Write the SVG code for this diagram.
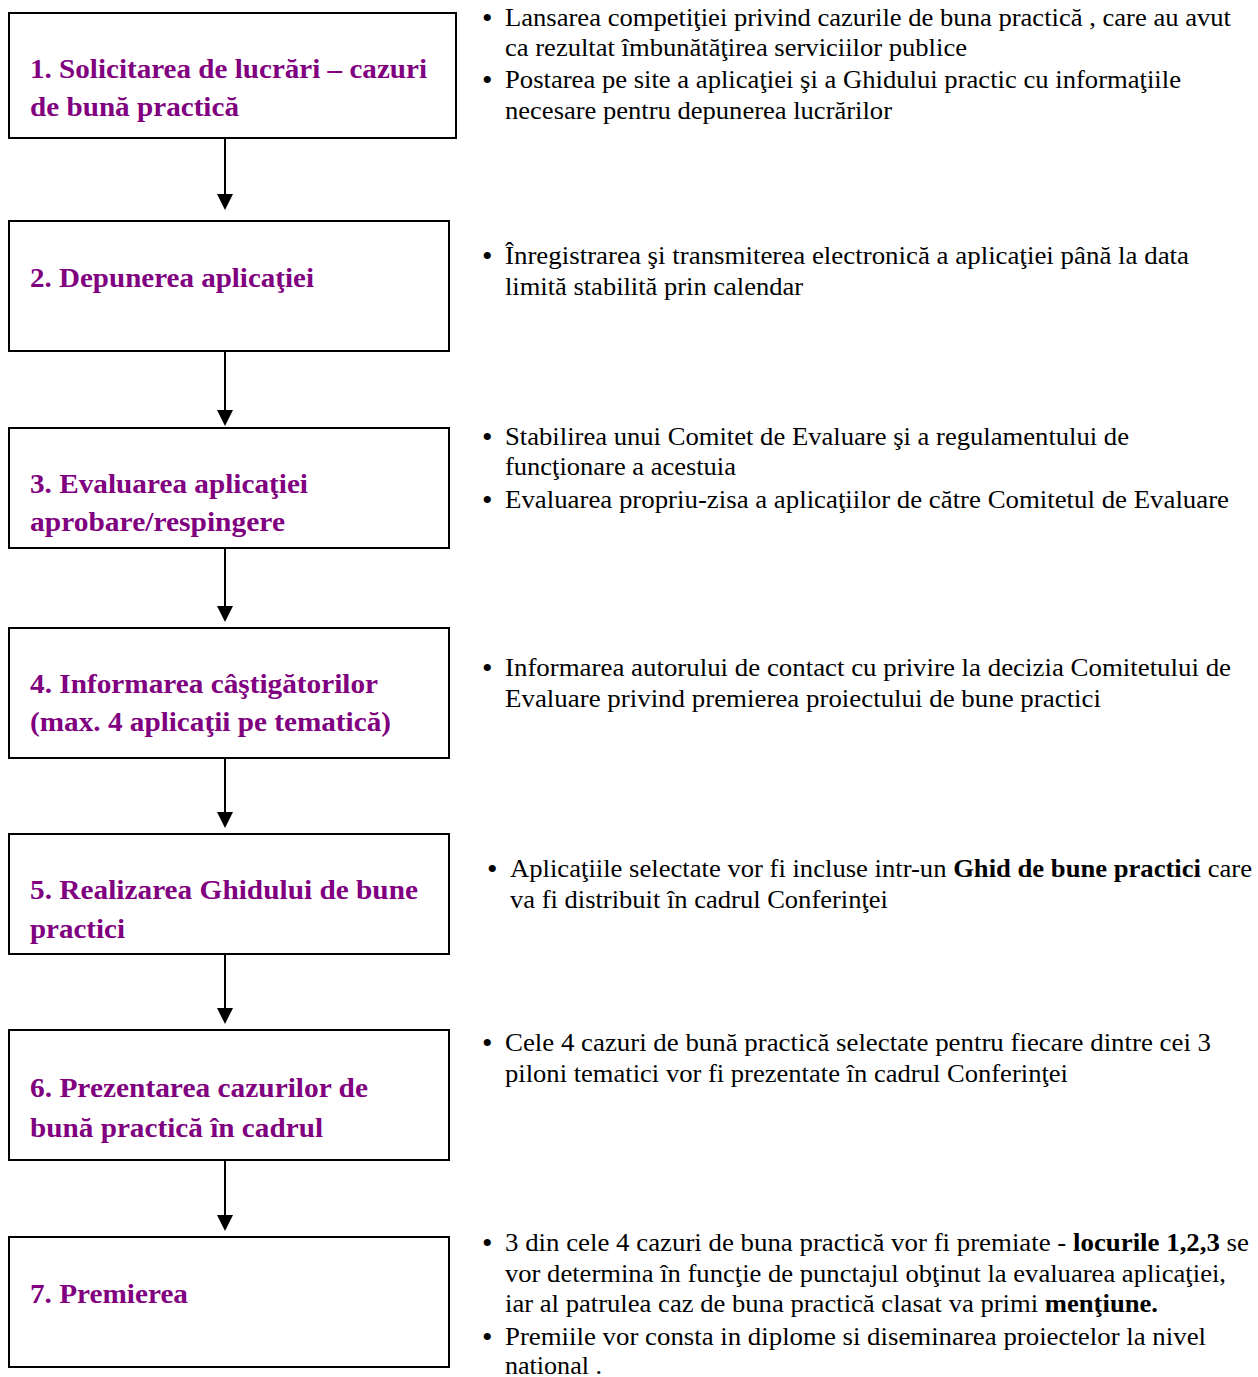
<svg xmlns="http://www.w3.org/2000/svg" width="1258" height="1377" viewBox="0 0 1258 1377">
<defs>
<style>
.box{fill:#fff;stroke:#000;stroke-width:2}
.t{font-family:"Liberation Serif","Times New Roman",serif;font-weight:bold;font-size:28px;fill:#800080}
.d{font-family:"Liberation Serif","Times New Roman",serif;font-size:25px;fill:#000}
.bl{font-family:"Liberation Serif","Times New Roman",serif;font-size:30px;fill:#000}
.b{font-weight:bold}
.c{stroke:#000;stroke-width:2;fill:none}
</style>
</defs>
<rect width="1258" height="1377" fill="#fff"/>
<g id="connectors">
<path class="c" d="M225,139 V197"/><path d="M217,194 H233 L225,210 Z"/>
<path class="c" d="M225,352 V413"/><path d="M217,410 H233 L225,426 Z"/>
<path class="c" d="M225,549 V609"/><path d="M217,606 H233 L225,622 Z"/>
<path class="c" d="M225,759 V815"/><path d="M217,812 H233 L225,828 Z"/>
<path class="c" d="M225,955 V1011"/><path d="M217,1008 H233 L225,1024 Z"/>
<path class="c" d="M225,1161 V1218"/><path d="M217,1215 H233 L225,1231 Z"/>
</g>
<g id="node1">
<rect class="box" x="9" y="13" width="447" height="125"/>
<text class="t" x="30" y="78" textLength="397" lengthAdjust="spacingAndGlyphs">1. Solicitarea de lucrări – cazuri</text>
<text class="t" x="30" y="116" textLength="209" lengthAdjust="spacingAndGlyphs">de bună practică</text>
</g>
<g id="node2">
<rect class="box" x="9" y="221" width="440" height="130"/>
<text class="t" x="30" y="287" textLength="284" lengthAdjust="spacingAndGlyphs">2. Depunerea aplicaţiei</text>
</g>
<g id="node3">
<rect class="box" x="9" y="428" width="440" height="120"/>
<text class="t" x="30" y="493" textLength="278" lengthAdjust="spacingAndGlyphs">3. Evaluarea aplicaţiei</text>
<text class="t" x="30" y="531" textLength="255" lengthAdjust="spacingAndGlyphs">aprobare/respingere</text>
</g>
<g id="node4">
<rect class="box" x="9" y="628" width="440" height="130"/>
<text class="t" x="30" y="693" textLength="348" lengthAdjust="spacingAndGlyphs">4. Informarea câştigătorilor</text>
<text class="t" x="30" y="731" textLength="361" lengthAdjust="spacingAndGlyphs">(max. 4 aplicaţii pe tematică)</text>
</g>
<g id="node5">
<rect class="box" x="9" y="834" width="440" height="120"/>
<text class="t" x="30" y="899" textLength="388" lengthAdjust="spacingAndGlyphs">5. Realizarea Ghidului de bune</text>
<text class="t" x="30" y="938" textLength="95" lengthAdjust="spacingAndGlyphs">practici</text>
</g>
<g id="node6">
<rect class="box" x="9" y="1030" width="440" height="130"/>
<text class="t" x="30" y="1097" textLength="338" lengthAdjust="spacingAndGlyphs">6. Prezentarea cazurilor de</text>
<text class="t" x="30" y="1137" textLength="293" lengthAdjust="spacingAndGlyphs">bună practică în cadrul</text>
</g>
<g id="node7">
<rect class="box" x="9" y="1237" width="440" height="130"/>
<text class="t" x="30" y="1303" textLength="158" lengthAdjust="spacingAndGlyphs">7. Premierea</text>
</g>
<g id="notes">
<text class="bl" x="482" y="28">•</text>
<text class="d" x="505" y="26" textLength="726" lengthAdjust="spacingAndGlyphs">Lansarea competiţiei privind cazurile de buna practică , care au avut</text>
<text class="d" x="505" y="56" textLength="462" lengthAdjust="spacingAndGlyphs">ca rezultat îmbunătăţirea serviciilor publice</text>
<text class="bl" x="482" y="90">•</text>
<text class="d" x="505" y="88" textLength="676" lengthAdjust="spacingAndGlyphs">Postarea pe site a aplicaţiei şi a Ghidului practic cu informaţiile</text>
<text class="d" x="505" y="119" textLength="387" lengthAdjust="spacingAndGlyphs">necesare pentru depunerea lucrărilor</text>

<text class="bl" x="482" y="266">•</text>
<text class="d" x="505" y="264" textLength="684" lengthAdjust="spacingAndGlyphs">Înregistrarea şi transmiterea electronică a aplicaţiei  până la data</text>
<text class="d" x="505" y="295" textLength="298" lengthAdjust="spacingAndGlyphs">limită stabilită prin calendar</text>

<text class="bl" x="482" y="447">•</text>
<text class="d" x="505" y="445" textLength="624" lengthAdjust="spacingAndGlyphs">Stabilirea unui Comitet de Evaluare şi a regulamentului de</text>
<text class="d" x="505" y="475" textLength="231" lengthAdjust="spacingAndGlyphs">funcţionare a acestuia</text>
<text class="bl" x="482" y="510">•</text>
<text class="d" x="505" y="508" textLength="724" lengthAdjust="spacingAndGlyphs">Evaluarea propriu-zisa a aplicaţiilor  de către Comitetul de Evaluare</text>

<text class="bl" x="482" y="678">•</text>
<text class="d" x="505" y="676" textLength="726" lengthAdjust="spacingAndGlyphs">Informarea autorului de contact cu privire  la decizia Comitetului de</text>
<text class="d" x="505" y="707" textLength="596" lengthAdjust="spacingAndGlyphs">Evaluare privind  premierea proiectului de bune practici</text>

<text class="bl" x="487" y="879">•</text>
<text class="d" x="510" y="877" textLength="742" lengthAdjust="spacingAndGlyphs">Aplicaţiile selectate vor fi incluse intr-un <tspan class="b">Ghid de bune practici</tspan> care</text>
<text class="d" x="510" y="908" textLength="378" lengthAdjust="spacingAndGlyphs">va fi distribuit în cadrul Conferinţei</text>

<text class="bl" x="482" y="1053">•</text>
<text class="d" x="505" y="1051" textLength="706" lengthAdjust="spacingAndGlyphs">Cele 4 cazuri de bună practică selectate  pentru fiecare dintre cei 3</text>
<text class="d" x="505" y="1082" textLength="563" lengthAdjust="spacingAndGlyphs">piloni tematici vor fi prezentate în cadrul Conferinţei</text>

<text class="bl" x="482" y="1253">•</text>
<text class="d" x="505" y="1251" textLength="744" lengthAdjust="spacingAndGlyphs">3 din cele 4 cazuri de buna practică  vor fi premiate - <tspan class="b">locurile 1,2,3</tspan> se</text>
<text class="d" x="505" y="1282" textLength="721" lengthAdjust="spacingAndGlyphs">vor determina în funcţie de punctajul obţinut la evaluarea aplicaţiei,</text>
<text class="d" x="505" y="1312" textLength="653" lengthAdjust="spacingAndGlyphs">iar al patrulea caz de buna practică clasat va primi <tspan class="b">menţiune.</tspan></text>
<text class="bl" x="482" y="1347">•</text>
<text class="d" x="505" y="1345" textLength="701" lengthAdjust="spacingAndGlyphs">Premiile vor consta in diplome si  diseminarea proiectelor la nivel</text>
<text class="d" x="505" y="1374" textLength="97" lengthAdjust="spacingAndGlyphs">national .</text>
</g>
</svg>
